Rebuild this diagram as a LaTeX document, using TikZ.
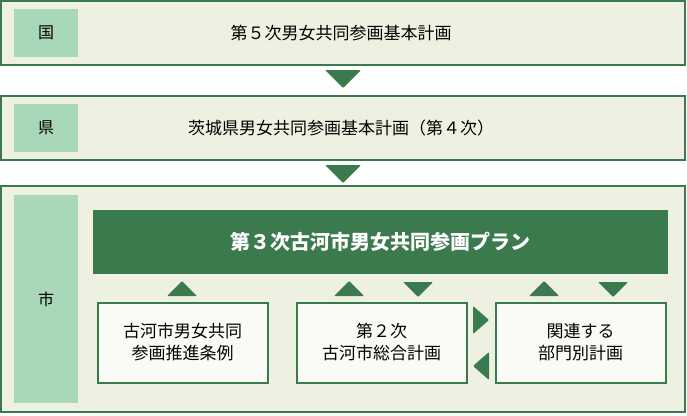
\documentclass[tikz,border=0pt]{standalone}
\usepackage{fontspec}
\setmainfont{Noto Sans CJK JP}
\usetikzlibrary{calc,positioning}
\definecolor{dkgreen}{HTML}{3A7A4C}
\definecolor{paleback}{HTML}{EEF1E2}
\definecolor{cellgreen}{HTML}{A9D8B8}

\begin{document}
\begin{tikzpicture}[x=1pt,y=-1pt]
	\tikzstyle{level}=[draw=dkgreen, line width=2pt, fill=paleback]
	\tikzstyle{cell}=[fill=cellgreen, font=\fontsize{16}{19}\selectfont]
	\tikzstyle{plan}=[draw=dkgreen, line width=2pt, fill=white!70!paleback, align=center,
	minimum width=170, minimum height=80, font=\fontsize{17}{22}\selectfont]
	\tikzstyle{tri}=[fill=dkgreen, rounded corners=1pt]
	\useasboundingbox (0,0) rectangle (687,415);
	% levels
	\node[level, minimum width=684, minimum height=64] (kuni) at (343,33) {};
	\node[level, minimum width=684, minimum height=64] (ken) at (343,128) {};
	\node[level, minimum width=684, minimum height=226] (shi) at (343,299) {};
	\node[cell, minimum width=64, minimum height=48] (kunicell) at (46,33) {国};
	\node[cell, minimum width=64, minimum height=48] (kencell) at (46,128) {県};
	\node[cell, minimum width=64, minimum height=208] (shicell) at (46,299) {市};
	\node[font=\fontsize{17}{20}\selectfont] (kunitext) at (341,33) {第５次男女共同参画基本計画};
	\node[font=\fontsize{17}{20}\selectfont] (kentext) at (341,128) {茨城県男女共同参画基本計画（第４次）};
	% arrows between levels
	\fill[tri] (325,70) -- (361,70) -- (343,88) -- cycle;
	\fill[tri] (325,165) -- (361,165) -- (343,183) -- cycle;
	% city plans
	\node[fill=dkgreen, text=white, minimum width=575, minimum height=64,
	font=\bfseries\fontsize{20}{24}\selectfont] (plan3) at (380.5,242) {第３次古河市男女共同参画プラン};
	\node[plan] (jorei) at (182.5,342.5) {古河市男女共同\\参画推進条例};
	\node[plan] (sogo) at (381.5,342.5) {第２次\\古河市総合計画};
	\node[plan] (bumon) at (580.5,342.5) {関連する\\部門別計画};
	% small arrows
	\foreach \cx in {182,349,544} \fill[tri] (\cx-15,296) -- (\cx+15,296) -- (\cx,281) -- cycle;
	\foreach \cx in {418,613} \fill[tri] (\cx-15,282) -- (\cx+15,282) -- (\cx,297) -- cycle;
	\fill[tri] (473,306) -- (489,320) -- (473,334) -- cycle;
	\fill[tri] (489,352) -- (473,366) -- (489,380) -- cycle;
\end{tikzpicture}
\end{document}
